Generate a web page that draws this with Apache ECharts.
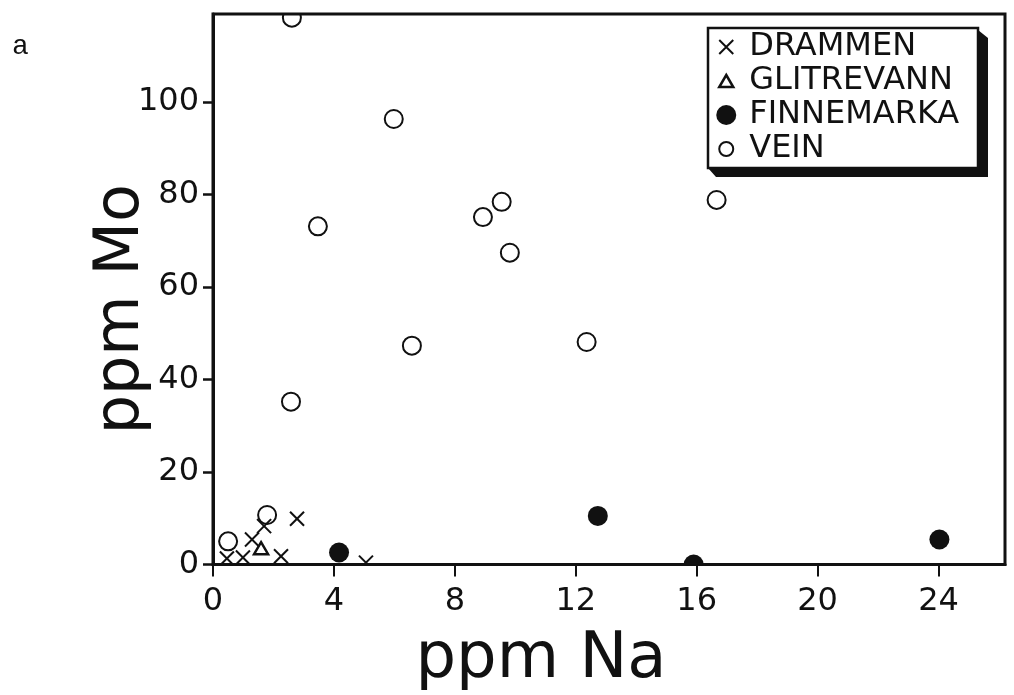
<!DOCTYPE html>
<html>
<head>
<meta charset="utf-8">
<script src="https://cdn.jsdelivr.net/npm/echarts@6/dist/echarts.min.js"></script>
<style>
  html, body { margin: 0; padding: 0; background: #fff; }
  #chart { width: 1014px; height: 695px; }
</style>
</head>
<body>
<div id="chart"></div>
<script>
// Sample groups, Na (ppm) against Mo (ppm)
const groupNames = ['DRAMMEN', 'GLITREVANN', 'FINNEMARKA', 'VEIN'];

const drammenNa = [0.46, 0.99, 1.29, 1.69, 2.78, 2.25, 5.06];
const drammenMo = [1.3, 1.5, 5.4, 8.3, 9.9, 1.8, 0.4];

const glitrevannNa = [1.59];
const glitrevannMo = [3.3];

const finnemarkaNa = [4.17, 12.73, 15.9, 24.03];
const finnemarkaMo = [2.6, 10.5, 0, 5.4];

const veinNa = [2.61, 5.98, 3.47, 8.93, 9.55, 9.82, 6.58, 12.36, 16.66, 2.58, 1.79, 0.5];
const veinMo = [118.2, 96.3, 73.1, 75.1, 78.4, 67.4, 47.3, 48.1, 78.8, 35.2, 10.7, 5.0];

const naTicks = [0, 4, 8, 12, 16, 20, 24];
const moTicks = [0, 20, 40, 60, 80, 100];

const INK = '#111';
const FONT = 'DejaVu Sans';

function pairs(xs, ys) {
  return xs.map((x, i) => [x, ys[i]]);
}

// Plot marker shapes, centred on a pixel position
const markers = {
  cross: (x, y) => ({
    type: 'group',
    children: [
      { type: 'line', shape: { x1: x - 7, y1: y - 7, x2: x + 7, y2: y + 7 }, style: { stroke: INK, lineWidth: 2 } },
      { type: 'line', shape: { x1: x + 7, y1: y - 7, x2: x - 7, y2: y + 7 }, style: { stroke: INK, lineWidth: 2 } }
    ]
  }),
  triangle: (x, y) => ({
    type: 'polygon',
    shape: { points: [[x, y - 7], [x + 7, y + 5], [x - 7, y + 5]] },
    style: { fill: 'none', stroke: INK, lineWidth: 2.5 }
  }),
  dot: (x, y) => ({
    type: 'circle',
    shape: { cx: x, cy: y, r: 10 },
    style: { fill: INK }
  }),
  ring: (x, y) => ({
    type: 'circle',
    shape: { cx: x, cy: y, r: 9 },
    style: { fill: 'none', stroke: INK, lineWidth: 2 }
  })
};

function markerSeries(name, xs, ys, kind) {
  return {
    type: 'custom',
    name: name,
    clip: true,
    data: pairs(xs, ys),
    renderItem: (params, api) => {
      const p = api.coord([api.value(0), api.value(1)]);
      return markers[kind](p[0], p[1]);
    }
  };
}

const legendIcons = [
  { name: groupNames[0], icon: 'path://M0,0M20,20M3,3L17,17M17,3L3,17',
    itemStyle: { color: 'transparent', borderColor: INK, borderWidth: 2 } },
  { name: groupNames[1], icon: 'path://M0,0M20,20M10,4L17,16L3,16Z',
    itemStyle: { color: 'transparent', borderColor: INK, borderWidth: 2.5 } },
  { name: groupNames[2], icon: 'circle',
    itemStyle: { color: INK, borderWidth: 0 } },
  { name: groupNames[3], icon: 'path://M0,0M20,20M10,3A7,7,0,1,1,9.99,3Z',
    itemStyle: { color: 'transparent', borderColor: INK, borderWidth: 2 } }
];

const chart = echarts.init(document.getElementById('chart'), null, { renderer: 'canvas' });

chart.setOption({
  animation: false,
  backgroundColor: '#fff',
  grid: {
    left: 213, right: 9, top: 14, bottom: 130.5,
    outerBoundsMode: 'none',
    containLabel: false,
    show: true, borderColor: INK, borderWidth: 3, backgroundColor: 'transparent'
  },
  xAxis: {
    type: 'value',
    min: 0, max: 26.2,
    axisLine: { show: true, lineStyle: { color: INK, width: 3 } },
    axisTick: { show: true, length: 12, customValues: naTicks, lineStyle: { color: INK, width: 2 } },
    axisLabel: { customValues: naTicks, margin: 21, fontSize: 32, fontFamily: FONT, color: INK },
    splitLine: { show: false },
    name: 'ppm Na',
    nameLocation: 'middle',
    nameGap: 64,
    nameMoveOverlap: false,
    nameTextStyle: { fontSize: 64, fontFamily: FONT, color: INK, padding: [0, 136, 0, 0] }
  },
  yAxis: {
    type: 'value',
    min: 0, max: 119,
    axisLine: { show: true, lineStyle: { color: INK, width: 3 } },
    axisTick: { show: true, length: 10, customValues: moTicks, lineStyle: { color: INK, width: 2.5 } },
    axisLabel: { customValues: moTicks, margin: 14, fontSize: 32, fontFamily: FONT, color: INK },
    splitLine: { show: false },
    name: 'ppm Mo',
    nameLocation: 'middle',
    nameGap: 60,
    nameMoveOverlap: false,
    nameTextStyle: { fontSize: 62, fontFamily: FONT, color: INK, padding: [0, 40, 0, 0] }
  },
  legend: {
    data: legendIcons,
    orient: 'vertical',
    left: 715, top: 31,
    padding: 0,
    itemWidth: 20, itemHeight: 20,
    itemGap: 2,
    z: 20,
    selectedMode: false,
    textStyle: { fontSize: 32, fontFamily: FONT, color: INK, lineHeight: 30, padding: [0, 0, 0, 8] }
  },
  graphic: [
    // legend frame with its drop shadow
    { type: 'polygon', z: 10, silent: true,
      shape: { points: [[978, 30], [988, 38], [988, 177], [716, 177], [708, 168], [978, 168]] },
      style: { fill: INK } },
    { type: 'rect', z: 11, silent: true,
      shape: { x: 708, y: 28, width: 270, height: 140 },
      style: { fill: '#fff', stroke: INK, lineWidth: 2.5 } },
    { type: 'text', z: 11, silent: true, x: 12, y: 47,
      style: { text: 'a', font: '28px "Liberation Mono"', fill: INK, verticalAlign: 'middle' } }
  ],
  series: [
    markerSeries(groupNames[0], drammenNa, drammenMo, 'cross'),
    markerSeries(groupNames[1], glitrevannNa, glitrevannMo, 'triangle'),
    markerSeries(groupNames[2], finnemarkaNa, finnemarkaMo, 'dot'),
    markerSeries(groupNames[3], veinNa, veinMo, 'ring')
  ]
});
</script>
</body>
</html>
